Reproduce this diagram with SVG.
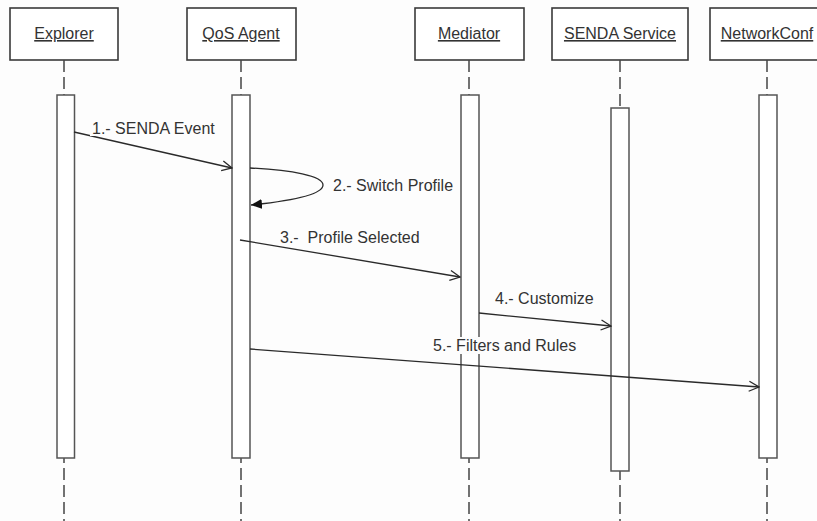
<svg xmlns="http://www.w3.org/2000/svg" width="817" height="521" viewBox="0 0 817 521">
<style>
.bg{fill:#fdfdfd}
.head{fill:#fff;stroke:#3a3a3a;stroke-width:1.6}
.htxt{font-family:"Liberation Sans",Arial,sans-serif;font-size:16px;fill:#333;text-anchor:middle;text-decoration:underline}
.life{stroke:#444;stroke-width:1.5;stroke-dasharray:12 5;fill:none}
.act{fill:#fff;stroke:#555;stroke-width:1.5}
.msg{stroke:#2a2a2a;stroke-width:1.3;fill:none}
.mtxt{font-family:"Liberation Sans",Arial,sans-serif;font-size:16px;fill:#333;white-space:pre}
.lblbg{fill:#fdfdfd}
</style>
<defs>
<marker id="open" viewBox="0 0 12 12" refX="11" refY="6" markerWidth="12" markerHeight="12" markerUnits="userSpaceOnUse" orient="auto">
<path d="M1,1 L11,6 L1,11" fill="none" stroke="#2a2a2a" stroke-width="1.3"/>
</marker>
<marker id="filled" viewBox="0 0 12 12" refX="11" refY="6" markerWidth="12" markerHeight="12" markerUnits="userSpaceOnUse" orient="auto">
<path d="M0,1 L11,6 L0,11 Z" fill="#111"/>
</marker>
</defs>
<rect class="bg" x="0" y="0" width="817" height="521"/>

<g id="explorer">
<rect class="head" x="10" y="8" width="108" height="52"/>
<text class="htxt" x="64" y="39">Explorer</text>
<line class="life" x1="64" y1="60" x2="64" y2="521"/>
<rect class="act" x="57" y="95" width="17.5" height="363"/>
</g>
<g id="qos-agent">
<rect class="head" x="187" y="8" width="109" height="52"/>
<text class="htxt" x="241" y="39">QoS Agent</text>
<line class="life" x1="241" y1="60" x2="241" y2="521"/>
<rect class="act" x="232" y="95" width="18" height="363"/>
</g>
<g id="mediator">
<rect class="head" x="415" y="8" width="109" height="52"/>
<text class="htxt" x="469" y="39">Mediator</text>
<line class="life" x1="469" y1="60" x2="469" y2="521"/>
<rect class="act" x="461" y="95" width="18" height="363"/>
</g>
<g id="senda-service">
<rect class="head" x="552" y="8" width="136" height="52"/>
<text class="htxt" x="620" y="39">SENDA Service</text>
<line class="life" x1="620" y1="60" x2="620" y2="521"/>
<rect class="act" x="611" y="108" width="18" height="363"/>
</g>
<g id="networkconf">
<rect class="head" x="710" y="8" width="114" height="52"/>
<text class="htxt" x="767" y="39">NetworkConf</text>
<line class="life" x1="767" y1="60" x2="767" y2="521"/>
<rect class="act" x="759" y="95" width="18" height="363"/>
</g>

<g id="connectors">
<line class="msg" x1="74" y1="132" x2="232" y2="168" marker-end="url(#open)"/>
<rect class="lblbg" x="90" y="121" width="101" height="15"/>
<text class="mtxt" x="92" y="134">1.- SENDA Event</text>

<path class="msg" d="M250,168 C292,170 323,176 323,185 C323,195 290,201 251,205" marker-end="url(#filled)"/>
<text class="mtxt" x="333" y="191">2.- Switch Profile</text>

<line class="msg" x1="240" y1="240" x2="460" y2="277" marker-end="url(#open)"/>
<text class="mtxt" x="280" y="243">3.-  Profile Selected</text>

<line class="msg" x1="479" y1="313" x2="611" y2="326" marker-end="url(#open)"/>
<text class="mtxt" x="495" y="304">4.- Customize</text>

<line class="msg" x1="250" y1="349" x2="759" y2="387" marker-end="url(#open)"/>
<rect class="lblbg" x="431" y="337" width="147" height="17"/>
<text class="mtxt" x="433" y="351">5.- Filters and Rules</text>
</g>
</svg>
